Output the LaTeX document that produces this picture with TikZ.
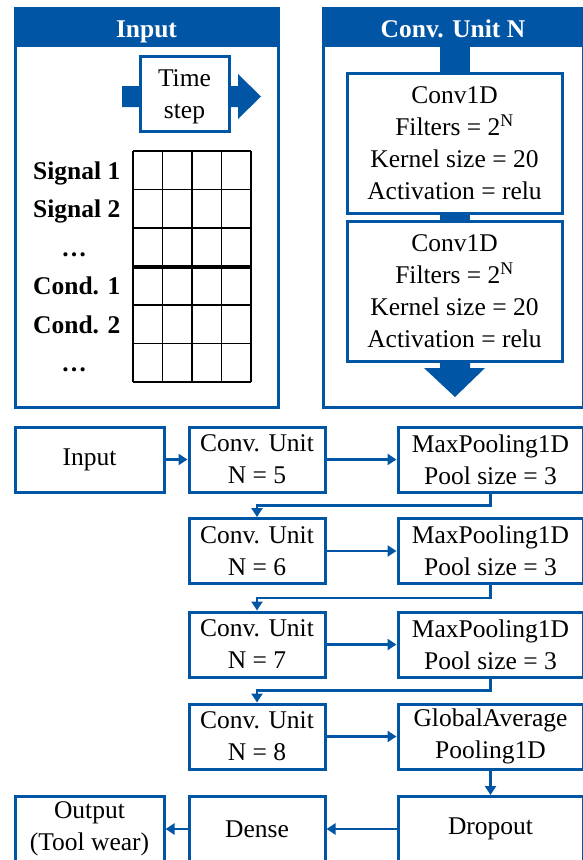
\documentclass[tikz,border=0pt]{standalone}
\usepackage{fontspec}
\setmainfont{Liberation Serif}
\usetikzlibrary{arrows.meta}
\definecolor{nnblue}{RGB}{0,86,164}
\begin{document}
\begin{tikzpicture}[x=1pt,y=-1pt,
  txt/.style={font=\fontsize{25.5}{32}\selectfont},
  box/.style={txt, draw=nnblue, line width=3pt, fill=white,
    minimum width=#1, minimum height=65pt, inner sep=0pt, align=center},
  box/.default=136pt,
  panel/.style={draw=nnblue, line width=3pt},
  header/.style={fill=nnblue},
  title/.style={font=\fontsize{25.5}{32}\selectfont\bfseries, text=white, inner sep=0pt},
  lab/.style={font=\fontsize{25.5}{32}\selectfont\bfseries, inner sep=0pt},
  gridline/.style={line width=1.4pt, black},
  bigarrow/.style={fill=nnblue, draw=none},
  conn/.style={draw=nnblue, line width=2.5pt, -{Triangle[length=9pt,width=11pt]}}
]
\useasboundingbox (0,0) rectangle (583,860);

% ---------- Input panel ----------
\fill[header] (15,8) rectangle (278,47);
\draw[panel] (15,8) rectangle (278,407);
\node[title, anchor=base] (tin) at (146.5,37) {Input};

% time-step arrow behind its box
\path[bigarrow] (122,86) -- (238,86) -- (238,74) -- (261,96.5) -- (238,119)
  -- (238,107) -- (122,107) -- cycle;
\node[box=89pt, minimum height=75pt] (ts) at (184.5,93.5) {};
\node[txt, align=center, inner sep=0pt] (tstxt) at (184.5,97) {Time\\step};

% data grid
\foreach \i in {0,...,4}
  \draw[gridline] (133+\i*29.5,151) -- (133+\i*29.5,382);
\foreach \j in {0,...,6}
  \draw[gridline] (133,151+\j*38.5) -- (251,151+\j*38.5);
\draw[line width=4pt] (133,266.5) -- (251,266.5);

\node[lab, anchor=base west] (s1) at (33,179) {Signal 1};
\node[lab, anchor=base west] (s2) at (33,217.5) {Signal 2};
\node[lab, anchor=base] (e1) at (74,256) {…};
\node[lab, anchor=base west] (k1) at (33,294.5) {Cond. 1};
\node[lab, anchor=base west] (k2) at (33,333) {Cond. 2};
\node[lab, anchor=base] (e2) at (74,371.5) {…};

% ---------- Conv. Unit N panel ----------
\fill[header] (323,8) rectangle (583.5,47);
\draw[panel] (323,8) rectangle (583.5,407);
\node[title, anchor=base] (tcu) at (453,37) {Conv. Unit N};

\path[bigarrow] (440,47) rectangle (470,75);
\path[bigarrow] (440,208) rectangle (470,224);
\path[bigarrow] (440,356) -- (470,356) -- (470,368) -- (485,368) -- (455,397)
  -- (424,368) -- (440,368) -- cycle;
\node[box=215pt, minimum height=140pt] (cv1) at (454.5,143)
  {Conv1D\\Filters = 2\textsuperscript{N}\\Kernel size = 20\\Activation = relu};
\node[box=215pt, minimum height=140pt] (cv2) at (454.5,291)
  {Conv1D\\Filters = 2\textsuperscript{N}\\Kernel size = 20\\Activation = relu};

% ---------- network flow ----------
\node[box=149pt] (in) at (89.5,459.5) {Input};
\node[box] (c5) at (257,459.5) {Conv. Unit\\N = 5};
\node[box=185pt] (m5) at (490.5,459.5) {MaxPooling1D\\Pool size = 3};

\node[box] (c6) at (257,551) {Conv. Unit\\N = 6};
\node[box=185pt] (m6) at (490.5,551) {MaxPooling1D\\Pool size = 3};

\node[box] (c7) at (257,644.5) {Conv. Unit\\N = 7};
\node[box=185pt] (m7) at (490.5,644.5) {MaxPooling1D\\Pool size = 3};

\node[box] (c8) at (257,736.5) {Conv. Unit\\N = 8};
\node[box=185pt] (g8) at (490.5,736.5) {GlobalAverage\\Pooling1D};

\node[box=149pt] (out) at (89.5,829) {Output\\(Tool wear)};
\node[box] (de) at (257,829) {Dense};
\node[box=185pt] (dr) at (490.5,829) {Dropout};

\draw[conn] (in) -- (c5);
\draw[conn] (c5) -- (m5);
\draw[conn] (m5.south) -- ++(0,12) -| (c6.north);
\draw[conn] (c6) -- (m6);
\draw[conn] (m6.south) -- ++(0,13) -| (c7.north);
\draw[conn] (c7) -- (m7);
\draw[conn] (m7.south) -- ++(0,12) -| (c8.north);
\draw[conn] (c8) -- (g8);
\draw[conn] (g8) -- (dr);
\draw[conn] (dr) -- (de);
\draw[conn] (de) -- (out);
\end{tikzpicture}
\end{document}
